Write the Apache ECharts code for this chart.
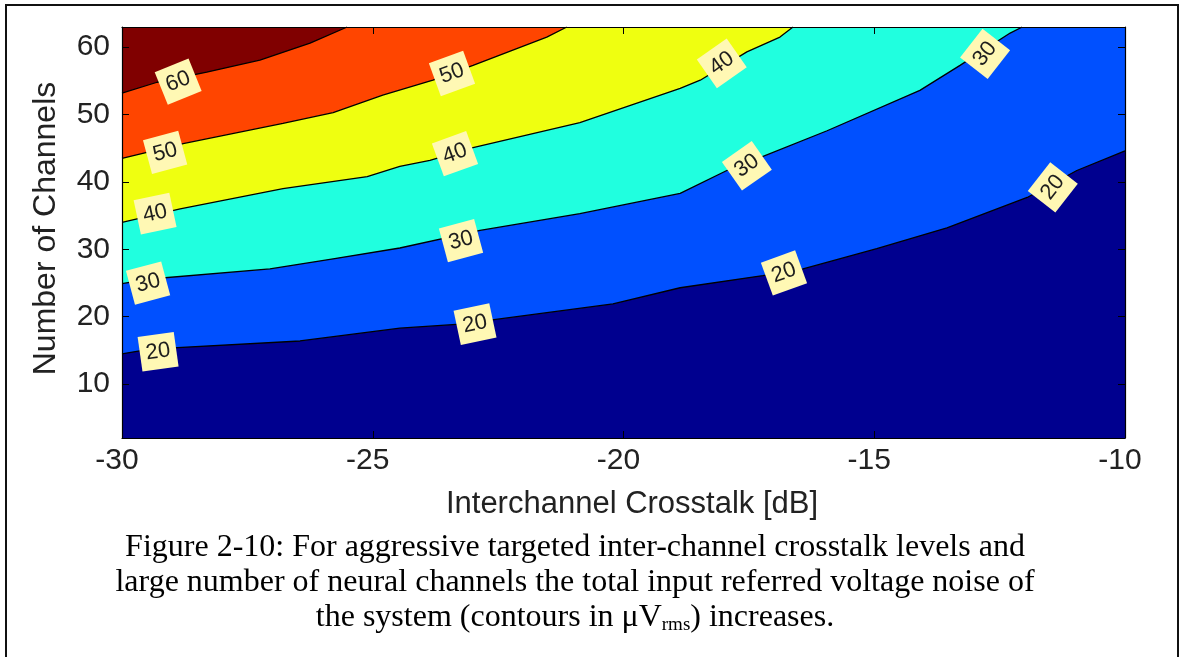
<!DOCTYPE html>
<html>
<head>
<meta charset="utf-8">
<title>Input referred noise vs. crosstalk and channel count</title>
<script src="https://cdn.jsdelivr.net/npm/echarts@6/dist/echarts.min.js"></script>
<style>
  html, body { margin: 0; padding: 0; background: #fff; }
  #chart { width: 1180px; height: 657px; }
</style>
</head>
<body>
<div id="chart"></div>
<script>
// Axis ticks
const xTicks = [-30, -25, -20, -15, -10];
const yTicks = [10, 20, 30, 40, 50, 60];

// Contour levels (µVrms) and the traced iso-lines: [crosstalk dB, channels]
const levels = [20, 30, 40, 50, 60];
const level20 = [[-30, 14.5], [-29.44, 15.2], [-26.45, 16.4], [-24.46, 18.3], [-23.26, 18.9],
  [-20.21, 21.9], [-18.87, 24.3], [-17.22, 26.1], [-16.42, 27.1], [-14.95, 30.1],
  [-13.55, 33.2], [-11.95, 37.7], [-10.96, 41.7], [-10, 44.6]];
const level30 = [[-30, 24.9], [-29.44, 25.6], [-27.05, 27.1], [-25.79, 28.6], [-24.46, 30.2],
  [-22.86, 32.8], [-20.87, 35.3], [-18.87, 38.3], [-17.94, 41.7], [-17.28, 43.6],
  [-15.94, 47.6], [-14.09, 53.6], [-13.29, 57.3], [-12.29, 62.1], [-12.05, 63]];
const level40 = [[-30, 34.0], [-28.84, 36.0], [-26.79, 39.0], [-25.11, 40.8], [-24.46, 42.3],
  [-23.86, 43.2], [-23.0, 45.1], [-20.87, 48.8], [-18.87, 53.9], [-18.47, 55.1],
  [-17.54, 59.3], [-16.88, 61.5], [-16.62, 63]];
const level50 = [[-30, 43.5], [-28.78, 45.7], [-26.79, 48.7], [-25.79, 50.3], [-24.80, 52.9],
  [-23.80, 55.1], [-23.0, 57.3], [-21.53, 61.5], [-21.13, 63]];
const level60 = [[-30, 53.2], [-29.30, 54.8], [-28.31, 56.3], [-27.25, 58.1], [-26.25, 60.6],
  [-25.51, 63]];
const contourLines = [level20, level30, level40, level50, level60];

// Inline contour labels: [crosstalk dB, channels, level]
const contourLabels = [
  [-28.88, 54.9, 60], [-29.14, 44.4, 50], [-29.34, 35.3, 40], [-29.48, 25.0, 30], [-29.28, 14.8, 20],
  [-23.42, 56.1, 50], [-23.36, 44.2, 40], [-23.24, 31.3, 30], [-22.96, 18.9, 20],
  [-18.04, 57.6, 40], [-17.54, 42.4, 30], [-16.80, 26.5, 20],
  [-12.79, 59.0, 30], [-11.44, 39.2, 20]
];
// Text rotation of each inline label (degrees, counter-clockwise)
const labelAngles = [22, 15, 12, 15, 8, 20, 20, 15, 12, 35, 35, 20, 52, 52];

// Band fills from the lowest band upward (jet colormap)
const bandColors = ['#00008F', '#0050FF', '#20FFDF', '#EFFF10', '#FF4500', '#800000'];

const captionLines = [
  'Figure 2-10: For aggressive targeted inter-channel crosstalk levels and',
  'large number of neural channels the total input referred voltage noise of'
];

const sans = 'Liberation Sans, Arial, Helvetica, sans-serif';
const serif = 'Liberation Serif, Times New Roman, serif';

const chart = echarts.init(document.getElementById('chart'), null, { renderer: 'canvas' });

const frameAxisLine = { show: true, onZero: false, lineStyle: { color: '#000', width: 1.2 } };

const fillSeries = contourLines.map((line, i) => ({
  type: 'line',
  name: String(levels[i]),
  data: line,
  xAxisIndex: 0,
  yAxisIndex: 0,
  symbol: 'none',
  smooth: false,
  clip: true,
  z: 2 + i,
  lineStyle: { color: '#000', width: 1.3 },
  areaStyle: { origin: 'end', color: bandColors[i + 1], opacity: 1 },
  silent: true
}));

const labelSeries = {
  type: 'scatter',
  xAxisIndex: 0,
  yAxisIndex: 0,
  z: 20,
  symbolSize: 2,
  itemStyle: { color: 'rgba(0,0,0,0)', opacity: 1 },
  silent: true,
  data: contourLabels.map((d, i) => ({
    value: [d[0], d[1]],
    name: String(d[2]),
    label: { rotate: labelAngles[i] }
  })),
  label: {
    show: true,
    position: 'inside',
    formatter: p => p.name,
    color: '#1e1e1e',
    fontFamily: sans,
    fontSize: 22,
    backgroundColor: '#FFF8B4',
    padding: [7, 6, 6, 6]
  },
  emphasis: { disabled: true }
};

const option = {
  animation: false,
  backgroundColor: '#fff',
  grid: {
    left: 122, right: 55, top: 27, bottom: 219,
    show: true, backgroundColor: bandColors[0], borderWidth: 0,
    outerBoundsMode: 'none'
  },
  title: {
    text: captionLines.map(t => '{a|' + t + '}').join('\n') +
      '\n{a|the system (contours in μV}{s|rms}{a|) increases.}',
    left: 575,
    top: 530,
    textAlign: 'center',
    padding: 0,
    textStyle: {
      color: '#000',
      fontFamily: serif,
      fontWeight: 'normal',
      rich: {
        a: { fontFamily: serif, fontSize: 32, lineHeight: 35, color: '#000' },
        s: { fontFamily: serif, fontSize: 19, lineHeight: 24, color: '#000', verticalAlign: 'bottom' }
      }
    }
  },
  xAxis: [
    {
      type: 'value', min: -30, max: -10, position: 'bottom', z: 10,
      axisLine: frameAxisLine,
      axisTick: { show: true, inside: true, length: 7, customValues: xTicks, lineStyle: { color: '#000', width: 1 } },
      axisLabel: { show: true, customValues: xTicks, color: '#222', fontFamily: sans, fontSize: 30, margin: 8, padding: [0, 10, 0, 0] },
      splitLine: { show: false },
      name: 'Interchannel Crosstalk [dB]',
      nameLocation: 'middle',
      nameGap: 51,
      nameTextStyle: { color: '#222', fontFamily: sans, fontSize: 31, padding: [0, 0, 0, 17] }
    },
    {
      type: 'value', min: -30, max: -10, position: 'top', z: 10,
      axisLine: frameAxisLine,
      axisTick: { show: true, inside: true, length: 7, customValues: xTicks, lineStyle: { color: '#000', width: 1 } },
      axisLabel: { show: false },
      splitLine: { show: false }
    }
  ],
  yAxis: [
    {
      type: 'value', min: 2, max: 63, position: 'left', z: 10,
      axisLine: frameAxisLine,
      axisTick: { show: true, inside: true, length: 7, customValues: yTicks, lineStyle: { color: '#000', width: 1 } },
      axisLabel: { show: true, customValues: yTicks, color: '#222', fontFamily: sans, fontSize: 30, margin: 12 },
      splitLine: { show: false },
      name: 'Number of Channels',
      nameLocation: 'middle',
      nameGap: 60,
      nameTextStyle: { color: '#222', fontFamily: sans, fontSize: 32, padding: [0, 0, 0, 8] }
    },
    {
      type: 'value', min: 2, max: 63, position: 'right', z: 10,
      axisLine: frameAxisLine,
      axisTick: { show: true, inside: true, length: 7, customValues: yTicks, lineStyle: { color: '#000', width: 1 } },
      axisLabel: { show: false },
      splitLine: { show: false }
    }
  ],
  graphic: [
    {
      type: 'rect',
      silent: true,
      z: 100,
      shape: { x: 6, y: 5, width: 1172, height: 700 },
      style: { fill: 'none', stroke: '#111', lineWidth: 2 }
    }
  ],
  series: fillSeries.concat([labelSeries])
};

chart.setOption(option);
</script>
</body>
</html>
